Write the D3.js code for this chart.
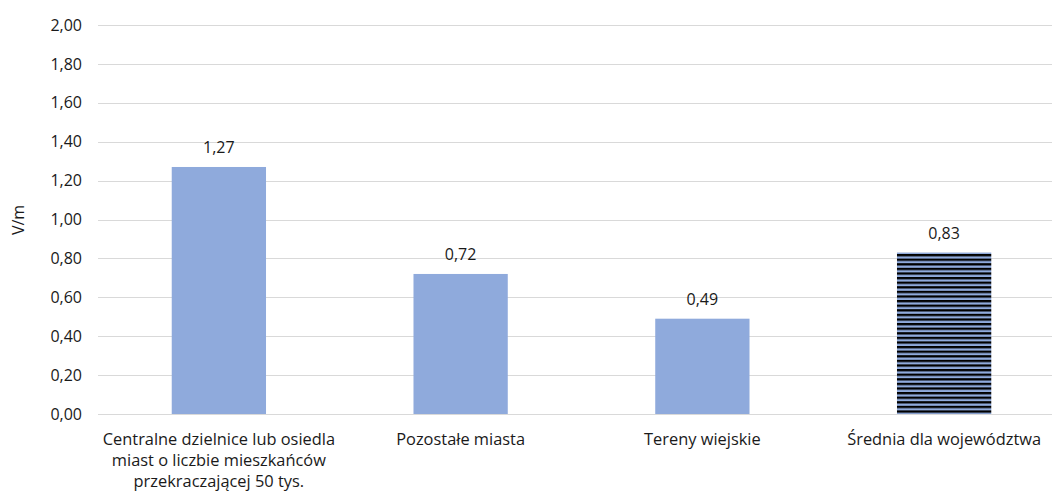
<!DOCTYPE html>
<html>
<head>
<meta charset="utf-8">
<script src="https://cdn.jsdelivr.net/npm/d3@7"></script>
<style>
  body { margin: 0; background: #fff; }
  text { font-family: "Open Sans", "Liberation Sans", sans-serif; fill: #1a1a1a; }
</style>
</head>
<body>
<div id="chart"></div>
<script>
const width = 1052;
const height = 492;

// Data
const categories = [
  ["Centralne dzielnice lub osiedla", "miast o liczbie mieszkańców", "przekraczającej 50 tys."],
  ["Pozostałe miasta"],
  ["Tereny wiejskie"],
  ["Średnia dla województwa"],
];
const values = [1.27, 0.72, 0.49, 0.83];
const striped = [false, false, false, true];
const yTicks = [0, 0.2, 0.4, 0.6, 0.8, 1.0, 1.2, 1.4, 1.6, 1.8, 2.0];

const fmt = (d) => d.toFixed(2).replace(".", ",");

const svg = d3
  .select("#chart")
  .append("svg")
  .attr("width", width)
  .attr("height", height);

// Stripe pattern for the average bar
const pattern = svg
  .append("defs")
  .append("pattern")
  .attr("id", "stripes")
  .attr("patternUnits", "userSpaceOnUse")
  .attr("y", 254)
  .attr("width", 10)
  .attr("height", 4.6);
pattern.append("rect").attr("width", 10).attr("height", 4.6).attr("fill", "#000");
pattern.append("rect").attr("y", 2.3).attr("width", 10).attr("height", 2.3).attr("fill", "#8FAADC");

const xScale = d3
  .scaleBand()
  .domain(d3.range(values.length))
  .range([98, 1065])
  .paddingInner(0.61)
  .paddingOuter(0.305);

const yScale = d3.scaleLinear().domain([0, 2]).range([414, 25]);

// Gridlines
svg
  .append("g")
  .selectAll("line")
  .data(yTicks)
  .enter()
  .append("line")
  .attr("x1", 98)
  .attr("x2", width)
  .attr("y1", (d) => Math.round(yScale(d)) + 0.5)
  .attr("y2", (d) => Math.round(yScale(d)) + 0.5)
  .attr("stroke", "#d9d9d9")
  .attr("stroke-width", 1.2);

// Y axis
const yAxis = svg
  .append("g")
  .attr("transform", "translate(82,0)")
  .call(d3.axisLeft(yScale).tickValues(yTicks).tickFormat(fmt).tickSize(0).tickPadding(0));
yAxis.select(".domain").remove();
yAxis.selectAll("text").style("font-size", "16px").attr("fill", "#1a1a1a").style("font-family", "'Open Sans', sans-serif");

// Bars
svg
  .append("g")
  .selectAll("rect")
  .data(values)
  .enter()
  .append("rect")
  .attr("x", (d, i) => xScale(i))
  .attr("y", (d) => yScale(d))
  .attr("width", xScale.bandwidth())
  .attr("height", (d) => yScale(0) - yScale(d))
  .attr("fill", (d, i) => (striped[i] ? "url(#stripes)" : "#8FAADC"));

// Value labels
svg
  .append("g")
  .selectAll("text")
  .data(values)
  .enter()
  .append("text")
  .attr("x", (d, i) => xScale(i) + xScale.bandwidth() / 2)
  .attr("y", (d) => yScale(d) - 14)
  .attr("text-anchor", "middle")
  .style("font-size", "16px")
  .text(fmt);

// Category labels
const cat = svg
  .append("g")
  .selectAll("text")
  .data(categories)
  .enter()
  .append("text")
  .attr("x", (d, i) => xScale(i) + xScale.bandwidth() / 2)
  .attr("y", 445)
  .attr("text-anchor", "middle")
  .style("font-size", "16.4px");
cat
  .selectAll("tspan")
  .data((d) => d)
  .enter()
  .append("tspan")
  .attr("x", function () { return d3.select(this.parentNode).attr("x"); })
  .attr("dy", (d, i) => (i === 0 ? 0 : 20.8))
  .text((d) => d);

// Y axis title
svg
  .append("text")
  .attr("transform", "translate(24,220) rotate(-90)")
  .attr("text-anchor", "middle")
  .style("font-size", "16px")
  .text("V/m");
</script>
</body>
</html>
